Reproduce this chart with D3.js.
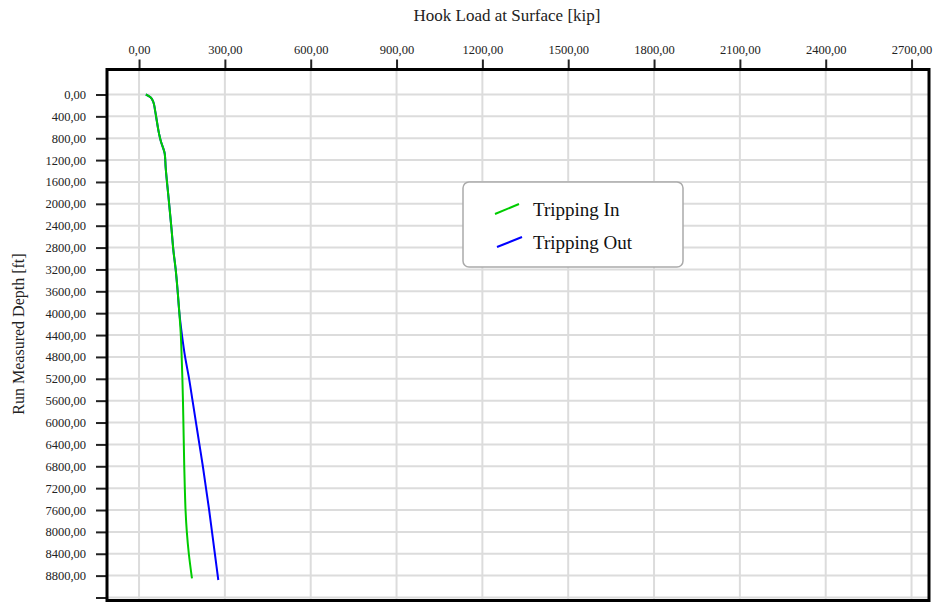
<!DOCTYPE html>
<html>
<head>
<meta charset="utf-8">
<script src="https://cdn.jsdelivr.net/npm/d3@7"></script>
<style>
  html, body { margin: 0; padding: 0; background: #fff; }
  svg { display: block; }
  text { font-family: "Liberation Serif", "Times New Roman", serif; }
</style>
</head>
<body>
<svg id="chart" width="945" height="603"></svg>
<script>
// Hook load tick values along the top axis [kip]
const loadTicks = [0, 300, 600, 900, 1200, 1500, 1800, 2100, 2400, 2700];
// Measured depth tick values [ft] and their labels (last tick unlabeled)
const depthTicks = [0, 400, 800, 1200, 1600, 2000, 2400, 2800, 3200, 3600, 4000, 4400,
  4800, 5200, 5600, 6000, 6400, 6800, 7200, 7600, 8000, 8400, 8800, 9200];
const depthTickLabels = ["0,00", "400,00", "800,00", "1200,00", "1600,00", "2000,00", "2400,00",
  "2800,00", "3200,00", "3600,00", "4000,00", "4400,00", "4800,00", "5200,00", "5600,00",
  "6000,00", "6400,00", "6800,00", "7200,00", "7600,00", "8000,00", "8400,00", "8800,00", ""];

// Tripping In: measured depth [ft] vs hook load [kip]
const trippingInDepth = [0, 50, 140, 290, 480, 720, 870, 990, 1090, 1330, 1880, 2490, 2850,
  3200, 3600, 4000, 4400, 4800, 5200, 5600, 6000, 6400, 6800, 7200, 7600, 8000, 8400, 8850];
const trippingInLoad = [24, 40, 50, 56, 62, 70, 77, 85, 90, 93, 103, 114, 120,
  128, 135, 141, 146, 149, 151.5, 153.5, 155, 156.5, 158, 160, 162.5, 167, 174, 185];

// Tripping Out: measured depth [ft] vs hook load [kip]
const trippingOutDepth = [0, 50, 140, 290, 480, 720, 870, 990, 1090, 1330, 1880, 2490, 2850,
  3200, 3600, 4000, 4400, 4800, 5200, 5600, 6000, 6400, 6800, 7200, 7600, 8000, 8400, 8880];
const trippingOutLoad = [24, 40, 50, 56, 62, 70, 77, 85, 90, 93, 103, 114, 120,
  128, 135, 141, 150, 161, 175, 187, 199, 211, 223, 234, 245, 255, 265, 277];

const seriesNames = ["Tripping In", "Tripping Out"];
const seriesColors = ["#00cc00", "#0000ff"];

const svg = d3.select("#chart");
const plot = { left: 107, right: 929, top: 69.5, bottom: 600.5 };

const x = d3.scaleLinear().domain([-112, 2761]).range([plot.left, plot.right]);
const y = d3.scaleLinear().domain([-457, 9255]).range([plot.top, plot.bottom]);

const locale = d3.formatLocale({ decimal: ",", thousands: "", grouping: [3], currency: ["", ""] });
const fmt = locale.format(".2f");

// Grid
const grid = svg.append("g");
grid.selectAll("line.v").data(loadTicks).join("line")
  .attr("x1", d => x(d)).attr("x2", d => x(d))
  .attr("y1", plot.top).attr("y2", plot.bottom)
  .attr("stroke", "#dcdcdc").attr("stroke-width", 2);
grid.selectAll("line.h").data(depthTicks).join("line")
  .attr("x1", plot.left).attr("x2", plot.right)
  .attr("y1", d => y(d)).attr("y2", d => y(d))
  .attr("stroke", "#dcdcdc").attr("stroke-width", 2);

// Top axis
const topAxis = svg.append("g")
  .attr("transform", `translate(0,${plot.top})`)
  .call(d3.axisTop(x).tickValues(loadTicks).tickFormat(fmt).tickSize(10).tickPadding(6));
// Left axis
const leftAxis = svg.append("g")
  .attr("transform", `translate(${plot.left},0)`)
  .call(d3.axisLeft(y).tickValues(depthTicks)
    .tickFormat((d, i) => depthTickLabels[i]).tickSize(11).tickPadding(10));

[topAxis, leftAxis].forEach(a => {
  a.select(".domain").remove();
  a.selectAll(".tick line").attr("stroke", "#222").attr("stroke-width", 2);
  a.selectAll(".tick text").attr("fill", "#222")
    .style("font-family", '"Liberation Serif", "Times New Roman", serif')
    .style("font-size", "12.5px");
});

// Curves
const series = [
  { depth: trippingInDepth, load: trippingInLoad },
  { depth: trippingOutDepth, load: trippingOutLoad }
];
const line = d3.line().x(d => x(d[1])).y(d => y(d[0])).curve(d3.curveMonotoneY);
// draw Tripping Out first so Tripping In sits on top where they overlap
[1, 0].forEach(i => {
  const s = series[i];
  svg.append("path")
    .datum(s.depth.map((d, k) => [d, s.load[k]]))
    .attr("d", line)
    .attr("fill", "none")
    .attr("stroke", seriesColors[i])
    .attr("stroke-width", 2);
});

// Plot frame
svg.append("rect")
  .attr("x", plot.left).attr("y", plot.top)
  .attr("width", plot.right - plot.left).attr("height", plot.bottom - plot.top)
  .attr("fill", "none").attr("stroke", "#000").attr("stroke-width", 3);

// Axis titles
svg.append("text")
  .attr("x", 507).attr("y", 21)
  .attr("text-anchor", "middle")
  .attr("fill", "#222")
  .style("font-size", "17px")
  .text("Hook Load at Surface [kip]");
svg.append("text")
  .attr("transform", "translate(24,334) rotate(-90)")
  .attr("text-anchor", "middle")
  .attr("fill", "#222")
  .style("font-size", "16px")
  .text("Run Measured Depth [ft]");

// Legend
const legend = svg.append("g");
legend.append("rect")
  .attr("x", 463).attr("y", 182).attr("width", 220).attr("height", 85)
  .attr("rx", 6).attr("ry", 6)
  .attr("fill", "#fff").attr("stroke", "#aaa").attr("stroke-width", 1.5);
seriesNames.forEach((name, i) => {
  const cy = 209 + i * 33;
  legend.append("line")
    .attr("x1", 495 + i * 2).attr("y1", cy + 5)
    .attr("x2", 519 + i * 3).attr("y2", cy - 5)
    .attr("stroke", seriesColors[i]).attr("stroke-width", 2);
  legend.append("text")
    .attr("x", 533).attr("y", cy + 7)
    .attr("fill", "#111")
    .style("font-size", "19px")
    .text(name);
});
</script>
</body>
</html>
